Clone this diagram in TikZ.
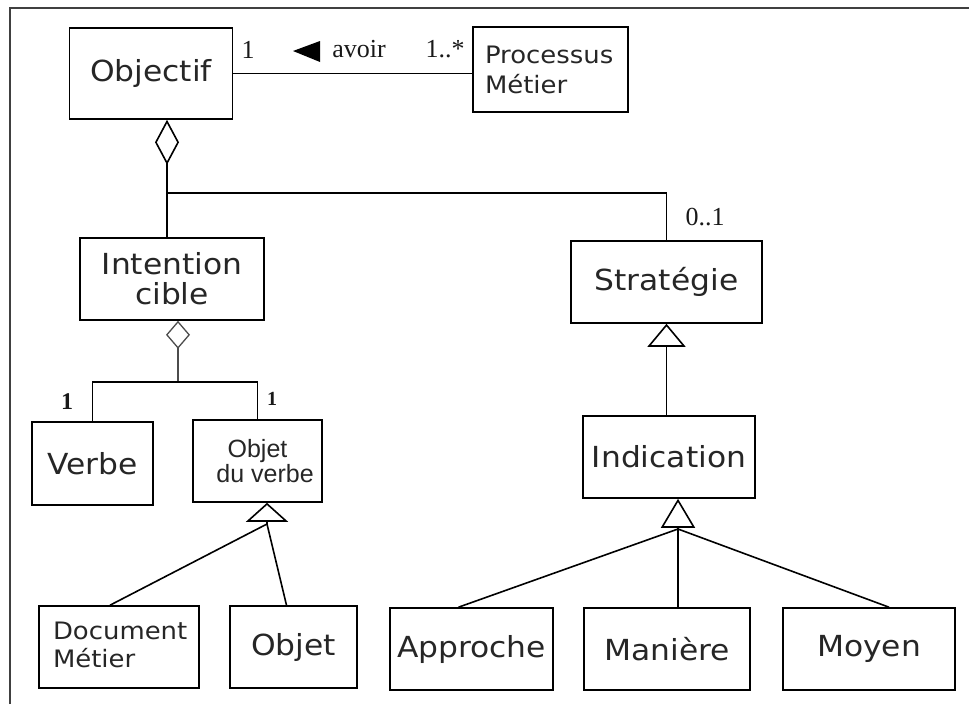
\documentclass[tikz,border=0pt]{standalone}
\usepackage{fontspec}
\setmainfont{DejaVu Sans}[FakeStretch=1.08]
\newfontfamily\multfont{Liberation Serif}
\newfontfamily\arialfont{Liberation Sans}
\usetikzlibrary{arrows.meta,calc}
\begin{document}
\begin{tikzpicture}[x=1pt,y=-1pt,
  box/.style={draw,line width=1.6pt,inner sep=0pt,align=center,text=black!85},
  big/.style={font=\fontsize{29}{30}\selectfont},
  conn/.style={line width=1.6pt},
  mult/.style={inner sep=0pt,text=black!90,font=\multfont\fontsize{26}{28}\selectfont},
  aggr/.style={-{Diamond[open,length=#1,width=24pt,line width=1.6pt]}}
]
\useasboundingbox (0,0) rectangle (969,704);

% outer frame (top and left edges only)
\draw[black!75,line width=1.6pt] (10,704) -- (10,8) -- (969,8);

% classes
\node[box,big,minimum width=163pt,minimum height=91pt] (obj) at (151,73.5) {Objectif};
\node[box,minimum width=155pt,minimum height=85pt,text width=131pt,align=left,
      font=\fontsize{24}{30}\selectfont] (proc) at (550.5,69.5) {Processus\\Métier};
\node[box,big,minimum width=184pt,minimum height=82pt] (intent) at (172,279) {Intention\\cible};
\node[box,big,minimum width=191pt,minimum height=82pt] (strat) at (666.5,282) {Stratégie};
\node[box,big,minimum width=121pt,minimum height=83pt] (verbe) at (92.5,463.5) {Verbe};
\node[box,minimum width=129pt,minimum height=82pt,
      font=\arialfont\fontsize{25}{25}\selectfont] (objv) at (257.5,461) {\raisebox{-6pt}{\shortstack{Objet\\[-2pt]\,\, du verbe}}};
\node[box,big,minimum width=172pt,minimum height=82pt] (indic) at (669,457) {Indication};
\node[box,minimum width=160pt,minimum height=82pt,text width=132pt,align=left,
      font=\fontsize{24}{28}\selectfont] (doc) at (119,647) {\raisebox{4pt}{Document}\\\raisebox{4pt}{Métier}};
\node[box,big,minimum width=127pt,minimum height=82pt] (objet) at (293.5,647) {Objet};
\node[box,big,minimum width=163pt,minimum height=82pt] (appr) at (471.5,649) {\raisebox{2pt}{Approche}};
\node[box,big,minimum width=166pt,minimum height=82pt] (mani) at (667,649) {Manière};
\node[box,big,minimum width=172pt,minimum height=82pt] (moyen) at (869,649) {\raisebox{7pt}{Moyen}};

% association Objectif -- Processus Metier
\draw[conn] (obj.east) -- (obj.east -| proc.west);
\node[mult] (m1) at (248,50) {1};
\fill[black] (293,51) -- (320,41) -- (320,62) -- cycle;
\node[mult] (avoir) at (359,49) {avoir};
\node[mult] (m2) at (445,49) {1..*};

% aggregation Objectif <>-- Intention cible / Strategie
\coordinate (j1) at (167,193);
\draw[conn,aggr=45pt] (j1) -- (obj.south -| j1);
\draw[conn] (intent.north -| j1) -- (j1) -| (strat.north);
\node[mult] (m3) at (705,217) {0..1};

% aggregation Intention cible <>-- Verbe / Objet du verbe
\coordinate (j2) at (178,382);
\draw[line width=1.1pt,black!70,-{Diamond[open,length=28pt,width=24pt,line width=1.3pt]}]
  (j2) -- (intent.south -| j2);
\draw[conn] (verbe.north) |- (j2) -| (objv.north);
\node[mult,font=\multfont\bfseries\fontsize{24}{26}\selectfont] (m4) at (67,402) {1};
\node[mult,font=\multfont\bfseries\fontsize{20}{22}\selectfont] (m5) at (272,399) {1};

% generalisation towards Objet du verbe
\coordinate (t1) at (267,524);
\draw[conn,-{Triangle[open,length=19pt,width=42pt,line width=1.6pt]}] (t1) -- (objv.south -| t1);
\draw[conn] (t1) -- ($(doc.north)+(-9,0)$);
\draw[conn] (t1) -- ($(objet.north)+(-7,0)$);

% generalisation Indication --|> Strategie
\draw[conn,-{Triangle[open,length=23pt,width=38pt,line width=1.6pt]}] (strat.south |- indic.north) -- (strat.south);

% generalisation towards Indication
\coordinate (t3) at (678,529);
\draw[conn,-{Triangle[open,length=29pt,width=34pt,line width=1.6pt]}] (t3) -- (indic.south -| t3);
\draw[conn] (t3) -- ($(appr.north)+(-13,0)$);
\draw[conn] (t3) -- (mani.north -| t3);
\draw[conn] (t3) -- ($(moyen.north)+(20,0)$);
\end{tikzpicture}
\end{document}
